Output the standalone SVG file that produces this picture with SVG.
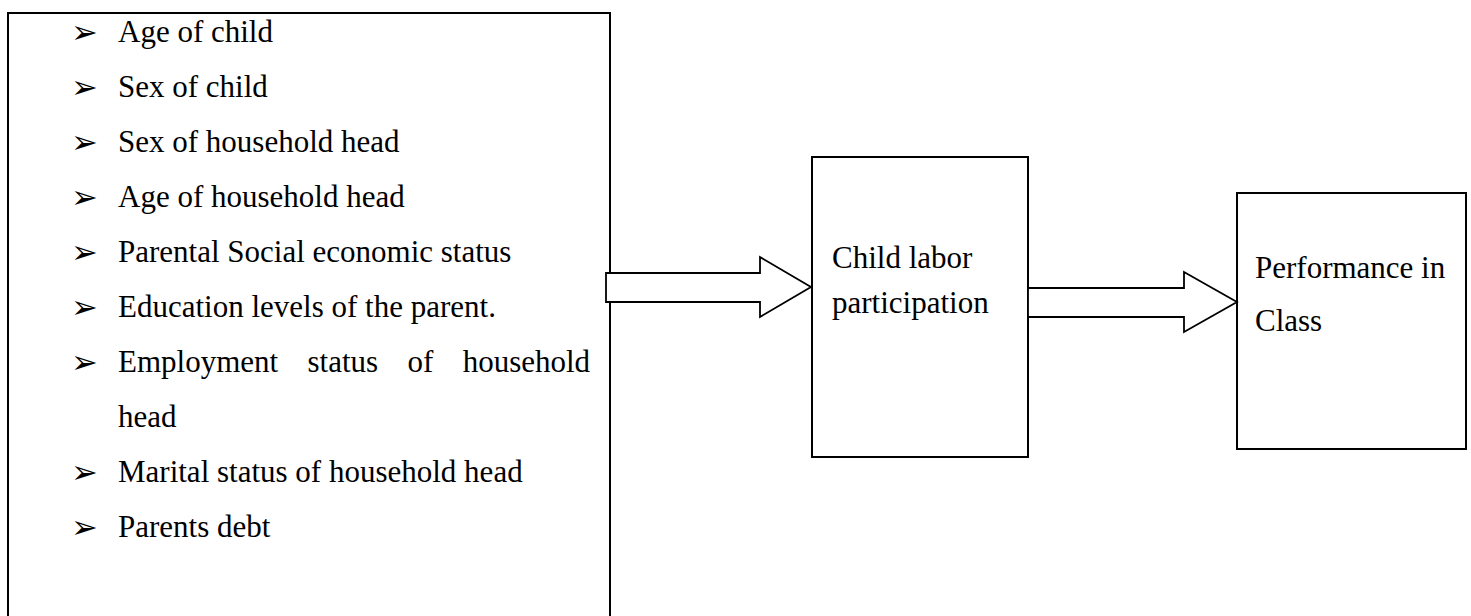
<svg xmlns="http://www.w3.org/2000/svg" width="1471" height="616" viewBox="0 0 1471 616">
<style>
.box{fill:none;stroke:#000;stroke-width:2}
.arr{fill:#fff;stroke:#000;stroke-width:1.8;stroke-linejoin:miter}
.t{font-family:"Liberation Serif","Times New Roman",serif;font-size:31px;fill:#000}
.b{font-family:"DejaVu Sans",sans-serif;font-size:32px;fill:#000}
</style>
<rect width="1471" height="616" fill="#fff"/>
<g id="factors">
<path class="box" d="M8,630 L8,13 L610,13 L610,630"/>
<text class="b" x="71" y="43">➢</text><text class="t" x="118" y="42">Age of child</text>
<text class="b" x="71" y="98">➢</text><text class="t" x="118" y="97">Sex of child</text>
<text class="b" x="71" y="153">➢</text><text class="t" x="118" y="152">Sex of household head</text>
<text class="b" x="71" y="208">➢</text><text class="t" x="118" y="207">Age of household head</text>
<text class="b" x="71" y="263">➢</text><text class="t" x="118" y="262">Parental Social economic status</text>
<text class="b" x="71" y="318">➢</text><text class="t" x="118" y="317">Education levels of the parent.</text>
<text class="b" x="71" y="373">➢</text><text class="t" x="118" y="372" word-spacing="21.6">Employment status of household</text>
<text class="t" x="118" y="427">head</text>
<text class="b" x="71" y="483">➢</text><text class="t" x="118" y="482">Marital status of household head</text>
<text class="b" x="71" y="538">➢</text><text class="t" x="118" y="537">Parents debt</text>
</g>
<g id="labor">
<rect class="box" x="812" y="157" width="216" height="300"/>
<text class="t" x="832" y="268">Child labor</text>
<text class="t" x="832" y="313">participation</text>
</g>
<g id="performance">
<rect class="box" x="1237" y="193" width="229" height="256"/>
<text class="t" x="1255" y="278">Performance in</text>
<text class="t" x="1255" y="331">Class</text>
</g>
<g id="connectors">
<polygon class="arr" points="606,273 760,273 760,257 811,287 760,317 760,302 606,302"/>
<polygon class="arr" points="1028,288 1184,288 1184,272 1237,302 1184,332 1184,317 1028,317"/>
</g>
</svg>
